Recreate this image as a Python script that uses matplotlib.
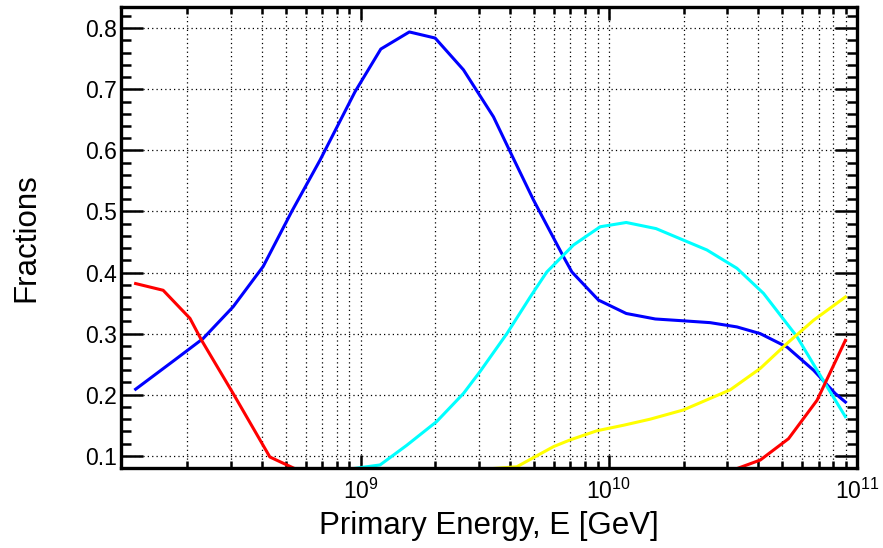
import numpy as np
import matplotlib.pyplot as plt
from matplotlib.ticker import LogLocator, MultipleLocator, NullFormatter

plt.rcParams['font.family'] = ['Liberation Sans', 'DejaVu Sans']
plt.rcParams['mathtext.fontset'] = 'custom'
plt.rcParams['mathtext.rm'] = 'Liberation Sans'

# log10(E / GeV) and fractions
blue_logE = [8.093, 8.251, 8.365, 8.486, 8.607, 8.722, 8.836, 8.977, 9.081, 9.196,
             9.30, 9.414, 9.535, 9.602, 9.696, 9.817, 9.851, 9.958, 10.07, 10.187,
             10.30, 10.408, 10.516, 10.61, 10.718, 10.825, 10.912, 10.953]
blue_frac = [0.209, 0.257, 0.292, 0.344, 0.410, 0.500, 0.584, 0.696, 0.766, 0.794,
             0.784, 0.732, 0.655, 0.598, 0.519, 0.426, 0.401, 0.355, 0.333, 0.324,
             0.321, 0.318, 0.311, 0.300, 0.278, 0.240, 0.202, 0.188]

red_logE = [8.093, 8.204, 8.312, 8.359, 8.486, 8.634, 8.75, np.nan,
            10.516, 10.61, 10.724, 10.839, 10.953]
red_frac = [0.382, 0.371, 0.325, 0.289, 0.202, 0.098, 0.076, np.nan,
            0.079, 0.093, 0.128, 0.191, 0.289]

cyan_logE = [8.97, 9.078, 9.185, 9.306, 9.414, 9.481, 9.589, 9.683, 9.75, 9.857,
             9.965, 10.07, 10.19, 10.395, 10.516, 10.623, 10.758, 10.839, 10.953]
cyan_frac = [0.079, 0.085, 0.117, 0.156, 0.202, 0.238, 0.300, 0.360, 0.401, 0.445,
             0.475, 0.482, 0.472, 0.437, 0.407, 0.366, 0.295, 0.240, 0.164]

yellow_logE = [9.528, 9.629, 9.777, 9.844, 9.952, 10.059, 10.167, 10.30, 10.489,
               10.61, 10.718, 10.825, 10.953]
yellow_frac = [0.079, 0.082, 0.115, 0.126, 0.141, 0.150, 0.160, 0.175, 0.208,
               0.243, 0.284, 0.322, 0.360]

fig = plt.figure(figsize=(8.83, 5.48), dpi=100)
ax = fig.add_axes([0.137, 0.146, 0.8336, 0.8414])

ax.plot(10 ** np.array(blue_logE), blue_frac, color=(0, 0, 1), lw=2.2)
ax.plot(10 ** np.array(cyan_logE), cyan_frac, color=(0, 1, 1), lw=2.2)
ax.plot(10 ** np.array(yellow_logE), yellow_frac, color=(1, 1, 0), lw=2.2)
ax.plot(10 ** np.array(red_logE), red_frac, color=(1, 0, 0), lw=2.2)

ax.set_xscale('log')
ax.set_xlim(10 ** 8.034, 1e11)
ax.set_ylim(0.08, 0.835)

ax.xaxis.set_major_locator(LogLocator(base=10, numticks=10))
ax.xaxis.set_minor_locator(LogLocator(base=10, subs=np.arange(2, 10), numticks=20))
ax.xaxis.set_minor_formatter(NullFormatter())
ax.yaxis.set_major_locator(MultipleLocator(0.1))
ax.yaxis.set_minor_locator(MultipleLocator(0.02))

ax.grid(True, which='major', axis='both', color='black', lw=0.9, linestyle=(0, (1, 2.5)))
ax.grid(True, which='minor', axis='x', color='black', lw=0.9, linestyle=(0, (1, 2.5)))

ax.tick_params(which='both', direction='in', top=True, right=True, width=1.8, colors='black')
ax.tick_params(axis='x', which='major', length=9.5, labelsize=16.5, pad=8)
ax.tick_params(axis='x', which='minor', length=5)
ax.tick_params(axis='y', which='major', length=16, labelsize=16.5, pad=3)
ax.tick_params(axis='y', which='minor', length=7.5)

for s in ax.spines.values():
    s.set_linewidth(2.4)

ax.set_xlabel('Primary Energy, E [GeV]', fontsize=22.5, labelpad=5)
ax.set_ylabel('Fractions', fontsize=22.5, labelpad=31)

fig.savefig('out.png', dpi=100)
